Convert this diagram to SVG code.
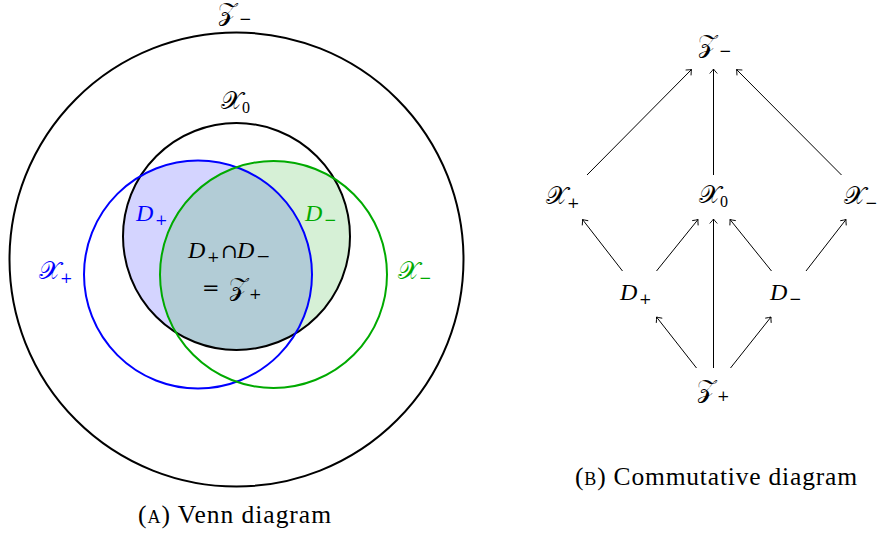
<svg xmlns="http://www.w3.org/2000/svg" width="880" height="538" viewBox="0 0 880 538">
<defs>
<style>
.m{font-family:"Liberation Serif","DejaVu Serif",serif;font-size:24px;font-style:italic;}
.c{font-family:"DejaVu Serif","DejaVu Sans","Liberation Serif",serif;font-size:25px;font-style:normal;}
.s{font-family:"DejaVu Serif","Liberation Serif",serif;font-size:15px;font-style:normal;}
.z{font-family:"Liberation Serif","DejaVu Serif",serif;font-size:16px;font-style:normal;}
.cap{font-family:"Liberation Serif","DejaVu Serif",serif;font-size:25.5px;}
.sc{font-size:18px;}
.circ{fill:none;stroke-width:2;}
.ar{stroke:#000;stroke-width:1;fill:none;marker-end:url(#to);}
</style>
<marker id="to" viewBox="-6 -5 8 10" refX="0" refY="0" markerWidth="8" markerHeight="10" markerUnits="userSpaceOnUse" orient="auto">
<path d="M-4.5,-3.8 Q-1.5,-1 0,0 Q-1.5,1 -4.5,3.8" fill="none" stroke="#000" stroke-width="0.9"/>
</marker>
<clipPath id="x0clip"><circle cx="236.5" cy="236.5" r="113.5"/></clipPath>
</defs>

<g id="venn">
<g id="fills" clip-path="url(#x0clip)">
<circle cx="198" cy="274.5" r="114" fill="#0000ff" fill-opacity="0.17"/>
<circle cx="273.5" cy="274.5" r="113.5" fill="#00a000" fill-opacity="0.16"/>
</g>
<g id="Zminus-set"><circle class="circ" cx="236.5" cy="259.5" r="227" stroke="#000"/>
<text x="218" y="20"><tspan class="c">𝒵</tspan><tspan class="s" x="239" y="24">−</tspan></text></g>
<g id="X0-set"><circle class="circ" cx="236.5" cy="236.5" r="113.5" stroke="#000"/>
<text x="221" y="109"><tspan class="c">𝒳</tspan><tspan class="z" x="242" y="113">0</tspan></text></g>
<g id="Xplus-set"><circle class="circ" cx="198" cy="274.5" r="114" stroke="#0000ff"/>
<text x="39" y="279" fill="#0000ff"><tspan class="c">𝒳</tspan><tspan class="s" x="60" y="283">+</tspan></text></g>
<g id="Xminus-set"><circle class="circ" cx="273.5" cy="274.5" r="113.5" stroke="#00aa00"/>
<text x="398" y="279" fill="#00aa00"><tspan class="c">𝒳</tspan><tspan class="s" x="419" y="283">−</tspan></text></g>
<g id="Dplus-label"><text class="m" x="136" y="221" fill="#0000ff">D<tspan class="s" x="155" y="225">+</tspan></text></g>
<g id="Dminus-label"><text class="m" x="305" y="221" fill="#00aa00">D<tspan class="s" x="324" y="225">−</tspan></text></g>
<g id="intersection-label">
<text class="m" x="188" y="258">D<tspan class="s" x="207" y="262">+</tspan><tspan class="s" x="221" y="258" style="font-size:20px">∩</tspan><tspan x="237" y="258">D</tspan><tspan class="s" x="256" y="262" style="font-size:17px">−</tspan></text>
<text class="m" x="202" y="295"><tspan class="s" style="font-size:21px">=</tspan><tspan class="c" x="229" y="295">𝒵</tspan><tspan class="s" x="249" y="299">+</tspan></text>
</g>
<text class="cap" x="138" y="523" textLength="193" lengthAdjust="spacing">(<tspan class="sc">A</tspan>) Venn diagram</text>
</g>

<g id="connectors">
<line class="ar" x1="587" y1="175" x2="691.5" y2="69.5"/>
<line class="ar" x1="713.5" y1="175" x2="713.5" y2="69"/>
<line class="ar" x1="841.5" y1="175" x2="736.5" y2="69.5"/>
<line class="ar" x1="622.5" y1="271" x2="582.5" y2="219.5"/>
<line class="ar" x1="656.5" y1="271" x2="698" y2="219.5"/>
<line class="ar" x1="713.5" y1="368" x2="713.5" y2="219"/>
<line class="ar" x1="771.5" y1="271" x2="730" y2="219.5"/>
<line class="ar" x1="806" y1="271" x2="846" y2="219.5"/>
<line class="ar" x1="696.5" y1="368" x2="656.5" y2="317"/>
<line class="ar" x1="730.5" y1="368" x2="771" y2="317"/>
</g>

<g id="node-Zminus"><text x="698" y="52"><tspan class="c">𝒵</tspan><tspan class="s" x="719" y="56">−</tspan></text></g>
<g id="node-Xplus"><text x="546" y="204"><tspan class="c">𝒳</tspan><tspan class="s" x="567" y="208">+</tspan></text></g>
<g id="node-X0"><text x="699" y="203"><tspan class="c">𝒳</tspan><tspan class="z" x="720" y="207">0</tspan></text></g>
<g id="node-Xminus"><text x="844" y="204"><tspan class="c">𝒳</tspan><tspan class="s" x="865" y="208">−</tspan></text></g>
<g id="node-Dplus"><text class="m" x="620" y="300">D<tspan class="s" x="639" y="304">+</tspan></text></g>
<g id="node-Dminus"><text class="m" x="770" y="300">D<tspan class="s" x="789" y="304">−</tspan></text></g>
<g id="node-Zplus"><text x="697" y="397"><tspan class="c">𝒵</tspan><tspan class="s" x="717" y="401">+</tspan></text></g>
<text class="cap" x="575" y="485" textLength="282" lengthAdjust="spacing">(<tspan class="sc">B</tspan>) Commutative diagram</text>
</svg>
